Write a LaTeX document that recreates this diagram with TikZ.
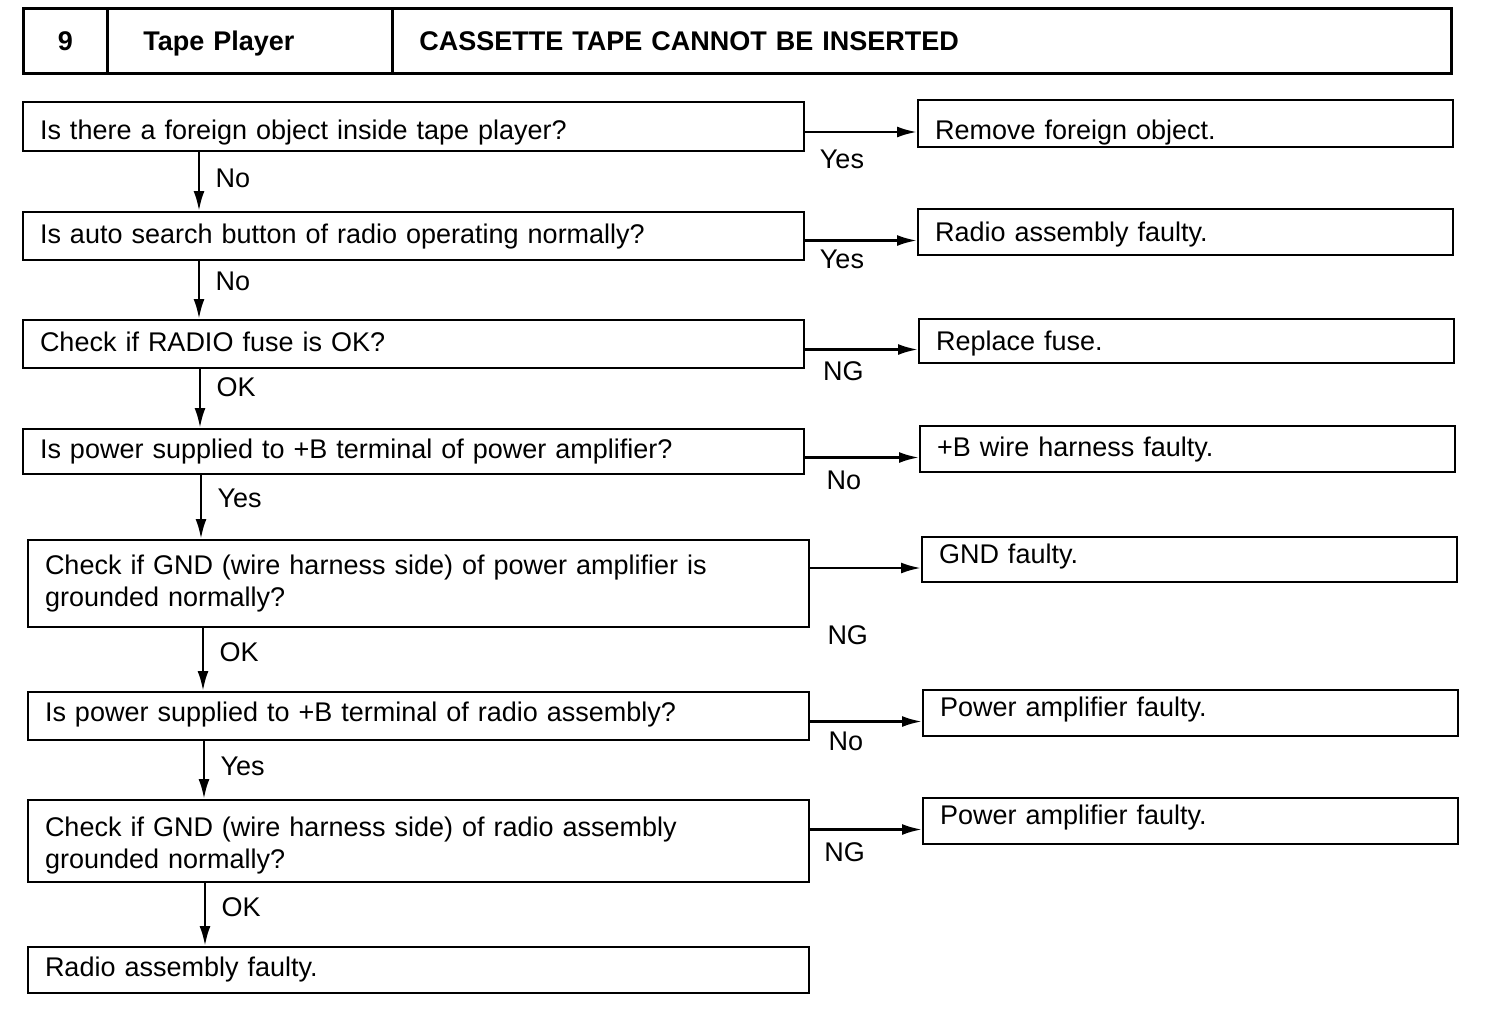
\documentclass[tikz,border=0pt]{standalone}
\usepackage{fontspec}
\setmainfont{Liberation Sans}
\usetikzlibrary{arrows.meta}
\begin{document}
\begin{tikzpicture}[x=1pt,y=-1pt,
  every node/.style={font=\fontsize{27}{32}\selectfont},
  hbox/.style={draw, line width=2.6pt, anchor=north west, minimum height=65pt, inner ysep=0pt, text height=20pt, text depth=0pt, font=\fontsize{27}{32}\selectfont\bfseries},
  qbox/.style={draw, line width=2pt, anchor=north west, inner xsep=17pt, inner ysep=0pt, text width=747pt, align=left},
  rbox/.style={draw, line width=2pt, anchor=north west, inner xsep=17pt, inner ysep=0pt, text width=501pt, align=left},
  lift/.style={text height=#1, text depth=0pt},
  arr/.style={line width=2.6pt, -{Latex[length=20pt,width=11pt]}},
  lab/.style={inner sep=0pt},
  vlab/.style={right, xshift=12pt}
]
\useasboundingbox (0,0) rectangle (1504,1020);

% header
\node[hbox, minimum width=84pt] (h1) at (22,7) {9};
\node[hbox, minimum width=285pt, inner xsep=36pt, text width=213pt, align=left] (h2) at (106,7) {Tape Player};
\node[hbox, minimum width=1059pt, inner xsep=27pt, text width=1005pt, align=left] (h3) at (391,7) {CASSETTE TAPE CANNOT BE INSERTED};

% left column
\node[qbox, lift=26pt, minimum height=49pt] (q1) at (22,101) {Is there a foreign object inside tape player?};
\node[qbox, lift=14pt, minimum height=48pt] (q2) at (22,211) {Is auto search button of radio operating normally?};
\node[qbox, lift=14pt, minimum height=48pt] (q3) at (22,319) {Check if RADIO fuse is OK?};
\node[qbox, lift=13pt, minimum height=45pt] (q4) at (22,428) {Is power supplied to +B terminal of power amplifier?};
\node[qbox, minimum height=87pt] (q5) at (27,539) {Check if GND (wire harness side) of power amplifier is\\grounded normally?};
\node[qbox, lift=10pt, minimum height=48pt] (q6) at (27,691) {Is power supplied to +B terminal of radio assembly?};
\node[qbox, text depth=28pt, minimum height=82pt] (q7) at (27,799) {Check if GND (wire harness side) of radio assembly\\grounded normally?};
\node[qbox, lift=12pt, minimum height=46pt] (q8) at (27,946) {Radio assembly faulty.};

% right column
\node[rbox, lift=32pt, minimum height=47pt] (r1) at (917,99) {Remove foreign object.};
\node[rbox, lift=18pt, minimum height=46pt] (r2) at (917,208) {Radio assembly faulty.};
\node[rbox, lift=18pt, minimum height=44pt] (r3) at (918,318) {Replace fuse.};
\node[rbox, lift=14pt, minimum height=46pt] (r4) at (919,425) {+B wire harness faulty.};
\node[rbox, lift=7pt, minimum height=45pt] (r5) at (921,536) {GND faulty.};
\node[rbox, lift=6pt, minimum height=46pt] (r6) at (922,689) {Power amplifier faulty.};
\node[rbox, lift=6pt, minimum height=46pt] (r7) at (922,797) {Power amplifier faulty.};

% horizontal connectors
\foreach \i in {1,...,7} {
  \coordinate (a\i) at ([yshift=-8.5pt]r\i.west);
}
\draw[arr] (a1 -| q1.east) -- node[lab, pos=0.33, yshift=-27pt] {Yes} (a1);
\draw[arr] (a2 -| q2.east) -- node[lab, pos=0.33, yshift=-19pt] {Yes} (a2);
\draw[arr] (a3 -| q3.east) -- node[lab, pos=0.34, yshift=-22pt] {NG} (a3);
\draw[arr] (a4 -| q4.east) -- node[lab, pos=0.34, yshift=-23pt] {No} (a4);
\draw[arr] (a5 -| q5.east) -- node[lab, pos=0.34, yshift=-67pt] {NG} (a5);
\draw[arr] (a6 -| q6.east) -- node[lab, pos=0.32, yshift=-20pt] {No} (a6);
\draw[arr] (a7 -| q7.east) -- node[lab, pos=0.31, yshift=-23pt] {NG} (a7);

% vertical connectors
\coordinate (v1) at ([xshift=177pt]q1.south west);
\coordinate (v2) at ([xshift=177pt]q2.south west);
\coordinate (v3) at ([xshift=178pt]q3.south west);
\coordinate (v4) at ([xshift=179pt]q4.south west);
\coordinate (v5) at ([xshift=176pt]q5.south west);
\coordinate (v6) at ([xshift=177pt]q6.south west);
\coordinate (v7) at ([xshift=178pt]q7.south west);
\draw[arr] (v1) -- node[pos=0.44, vlab] {No} (v1 |- q2.north);
\draw[arr] (v2) -- node[pos=0.35, vlab] {No} (v2 |- q3.north);
\draw[arr] (v3) -- node[pos=0.31, vlab] {OK} (v3 |- q4.north);
\draw[arr] (v4) -- node[pos=0.36, vlab] {Yes} (v4 |- q5.north);
\draw[arr] (v5) -- node[pos=0.38, vlab] {OK} (v5 |- q6.north);
\draw[arr] (v6) -- node[pos=0.43, vlab] {Yes} (v6 |- q7.north);
\draw[arr] (v7) -- node[pos=0.38, vlab] {OK} (v7 |- q8.north);
\end{tikzpicture}
\end{document}
